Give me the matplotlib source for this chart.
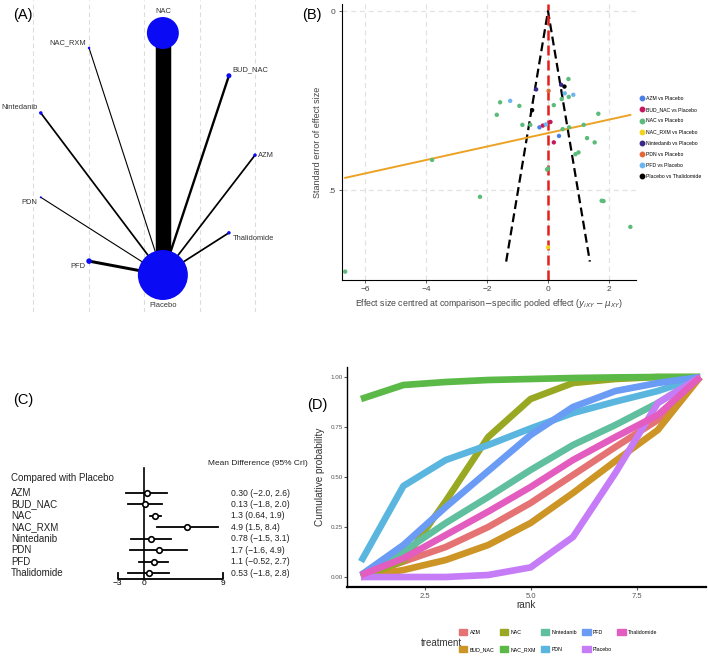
import numpy as np
import matplotlib
matplotlib.use("Agg")
import matplotlib.pyplot as plt
from matplotlib.lines import Line2D
from matplotlib.patches import Patch

plt.rcParams['font.family'] = ['Liberation Sans', 'DejaVu Sans']

# ---- (A) network ----
treatments = ["NAC", "NAC_RXM", "BUD_NAC", "Nintedanib", "AZM", "PDN", "Thalidomide", "PFD", "Placebo"]
layout_x = [0.34, -0.99, 1.53, -1.86, 2.00, -1.86, 1.53, -0.99, 0.34]
layout_y = [2.18, 1.91, 1.41, 0.74, -0.02, -0.78, -1.42, -1.93, -2.18]
node_weight = [530, 3.2, 13, 6.3, 6.3, 2.1, 6.3, 16, 1296]
n_studies = [24, 1, 3, 2, 2, 1, 2, 4, 0]   # studies vs Placebo

# ---- (B) comparison-adjusted funnel ----
azm_x, azm_se = [-0.28, 0.36], [0.325, 0.349]
bud_x, bud_se = [-0.17, 0.08, 0.19], [0.320, 0.310, 0.367]
nac_x = [0.67, -1.57, -0.94, -1.68, 0.19, 0.45, 0.68, 1.65, -0.84, -0.58, 0.48, 0.69,
         1.17, 1.28, 1.53, 0.90, 1.00, -3.80, 0.00, -0.03, -2.23, 1.76, 1.82, 2.70, -6.65]
nac_se = [0.190, 0.255, 0.265, 0.290, 0.263, 0.246, 0.240, 0.287, 0.318, 0.318, 0.330, 0.325,
          0.318, 0.355, 0.367, 0.400, 0.395, 0.416, 0.440, 0.443, 0.519, 0.530, 0.531, 0.603, 0.728]
rxm_x, rxm_se = [0.0], [0.660]
nin_x, nin_se = [-0.39, 0.43], [0.219, 0.206]
pdn_x, pdn_se = [0.02], [0.223]
pfd_x, pfd_se = [-1.24, 0.55, 0.83, -0.07], [0.251, 0.230, 0.234, 0.317]
tha_x, tha_se = [-0.52, 0.54], [0.277, 0.211]
funnel_labels = ["AZM vs Placebo", "BUD_NAC vs Placebo", "NAC vs Placebo", "NAC_RXM vs Placebo",
                 "Nintedanib vs Placebo", "PDN vs Placebo", "PFD vs Placebo", "Placebo vs Thalidomide"]
egger_intercept, egger_slope = 0.341, -0.0188
funnel_se_max = 0.70

# ---- (C) forest ----
forest_names = ["AZM", "BUD_NAC", "NAC", "NAC_RXM", "Nintedanib", "PDN", "PFD", "Thalidomide"]
md_est = [0.30, 0.13, 1.3, 4.9, 0.78, 1.7, 1.1, 0.53]
md_lo = [-2.0, -1.8, 0.64, 1.5, -1.5, -1.6, -0.52, -1.8]
md_hi = [2.6, 2.0, 1.9, 8.4, 3.1, 4.9, 2.7, 2.8]
forest_ticks = [-3, 0, 9]

# ---- (D) cumulative ranking ----
ranks = [1, 2, 3, 4, 5, 6, 7, 8, 9]
rank_names = ["AZM", "BUD_NAC", "NAC", "NAC_RXM", "Nintedanib", "PDN", "PFD", "Placebo", "Thalidomide"]
cum_prob = [
    [0.005, 0.077, 0.15, 0.25, 0.37, 0.51, 0.65, 0.785, 1.0],
    [0.0, 0.035, 0.085, 0.16, 0.27, 0.42, 0.58, 0.735, 1.0],
    [0.0, 0.08, 0.38, 0.70, 0.89, 0.97, 0.99, 1.0, 1.0],
    [0.89, 0.96, 0.975, 0.985, 0.99, 0.995, 0.998, 1.0, 1.0],
    [0.01, 0.127, 0.27, 0.40, 0.535, 0.66, 0.76, 0.87, 1.0],
    [0.077, 0.455, 0.585, 0.66, 0.743, 0.82, 0.877, 0.93, 1.0],
    [0.01, 0.16, 0.35, 0.53, 0.71, 0.85, 0.93, 0.97, 1.0],
    [0.0, 0.0, 0.0, 0.01, 0.048, 0.20, 0.52, 0.87, 1.0],
    [0.01, 0.093, 0.21, 0.327, 0.45, 0.585, 0.70, 0.81, 1.0],
]

W, H = 708, 658


def px_axes(fig, x0, y0, x1, y1):
    return fig.add_axes([x0 / W, 1 - y1 / H, (x1 - x0) / W, (y1 - y0) / H])


def sig2(v):
    return f"{v:#.2g}".replace("-", "\u2212")


def main():
    fig = plt.figure(figsize=(W / 100, H / 100), dpi=100)

    # (A) network plot
    ax = px_axes(fig, 0, 0, 300, 312)
    ax.set_xlim(-144 / 55.5, 156 / 55.5)
    ax.set_ylim(-158 / 55.5, 154 / 55.5)
    ax.axis("off")
    for g in [-2, -1, 0, 1, 2]:
        ax.axvline(g, color="#dcdcdc", ls=(0, (4, 3)), lw=0.8, zorder=0)
    pl = treatments.index("Placebo")
    for i, t in enumerate(treatments):
        if i == pl:
            continue
        ax.plot([layout_x[i], layout_x[pl]], [layout_y[i], layout_y[pl]], color="black",
                lw=0.35 + 0.45 * n_studies[i], solid_capstyle="butt", zorder=1)
    ax.scatter(layout_x, layout_y, s=node_weight, color="#0a0af5", edgecolors="none", zorder=3)
    for i, t in enumerate(treatments):
        r = np.sqrt(node_weight[i]) / 2
        if t in ("NAC", "Placebo"):
            dx, dy, ha = 0, (r + 4) * np.sign(layout_y[i]), "center"
        else:
            dy = 0 if abs(layout_y[i]) < 0.2 else 4 * np.sign(layout_y[i])
            dx = 2.5 if layout_x[i] > 0 else -2.5
            ha = "left" if layout_x[i] > 0 else "right"
        ax.annotate(t, (layout_x[i], layout_y[i]), xytext=(dx, dy), textcoords="offset points",
                    ha=ha, va="center", fontsize=5.4, color="#333333", annotation_clip=False)

    # (B) funnel plot
    ax = px_axes(fig, 342, 4, 636, 280)
    ax.set_xlim(-6.754, 2.885)
    ax.set_ylim(0.7514, -0.0196)
    ax.set_xticks([-6, -4, -2, 0, 2])
    ax.set_xticklabels(["\u22126", "\u22124", "\u22122", "0", "2"])
    ax.set_yticks([0, 0.5])
    ax.set_yticklabels(["0", ".5"])
    ax.grid(True, ls=(0, (4, 3)), color="#e2e2e2", lw=0.9)
    ax.set_axisbelow(True)
    for s in ["top", "right"]:
        ax.spines[s].set_visible(False)
    ax.tick_params(labelsize=6, length=2.5, width=0.6, colors="#444444", pad=2)
    se_line = np.array([funnel_se_max, 0, funnel_se_max])
    ax.plot(se_line * np.array([-1.96, 0, 1.96]), se_line, color="black", ls=(0, (4, 2)), lw=1.6, zorder=2)
    ax.axvline(0, color="#e3201c", ls=(0, (4, 2)), lw=1.8, zorder=2)
    all_x = azm_x + bud_x + nac_x + rxm_x + nin_x + pdn_x + pfd_x + tha_x
    xs = np.array([min(all_x), max(all_x)])
    ax.plot(xs, egger_intercept + egger_slope * xs, color="#eca224", lw=1.4, zorder=2)
    groups = [(azm_x, azm_se, "#4a7fe6"), (bud_x, bud_se, "#c3185b"), (nac_x, nac_se, "#5bbb78"),
              (rxm_x, rxm_se, "#f3d21d"), (nin_x, nin_se, "#3a2789"), (pdn_x, pdn_se, "#e26a38"),
              (pfd_x, pfd_se, "#6db5f0"), (tha_x, tha_se, "#000000")]
    handles = []
    for (gx, gse, c), lab in zip(groups, funnel_labels):
        ax.scatter(gx, gse, s=10, color=c, edgecolors="none", zorder=4)
        handles.append(Line2D([], [], marker="o", ls="", color=c, markersize=3.2, label=lab))
    ax.set_ylabel("Standard error of effect size", fontsize=6.5, color="#444444")
    ax.yaxis.set_label_coords(-20 / 294, 0.5)
    ax.set_xlabel(r"Effect size centred at comparison$-$specific pooled effect ($y_{iXY}-\mu_{XY}$)",
                  fontsize=6.3, color="#444444", labelpad=3)
    fig.legend(handles=handles, loc="upper left", bbox_to_anchor=(639 / W, 1 - 96 / H), frameon=False,
               fontsize=3.7, handlelength=1.0, handletextpad=0.3, borderpad=0, borderaxespad=0,
               labelspacing=1.2)

    # (C) forest plot
    ax = px_axes(fig, 0, 380, 354, 600)
    ax.set_xlim(-144 / 8.78, 210 / 8.78)
    ax.set_ylim((600 - 493) / 11.43, (380 - 493) / 11.43)
    ax.axis("off")
    ax.plot([0, 0], [-2.19, 7.52], color="black", lw=1.2)
    ax.plot([forest_ticks[0], forest_ticks[0], forest_ticks[-1], forest_ticks[-1]],
            [7.0, 7.52, 7.52, 7.0], color="black", lw=1.3)
    for v in forest_ticks:
        ax.text(v, 7.95, str(v).replace("-", "\u2212"), ha="center", va="center", fontsize=6)
    ax.text(-15.15, -1.31, "Compared with Placebo", va="center", fontsize=7, color="#222222")
    ax.text(7.29, -2.54, "Mean Difference (95% CrI)", va="center", fontsize=6, color="#222222")
    for k, name in enumerate(forest_names):
        ax.plot([md_lo[k], md_hi[k]], [k, k], color="black", lw=1.3)
        ax.plot(md_est[k], k, "o", mfc="white", mec="black", ms=4, mew=1.2)
        ax.text(-15.15, k, name, va="center", fontsize=7, color="#222222")
        ax.text(9.91, k, f"{sig2(md_est[k])} ({sig2(md_lo[k])}, {sig2(md_hi[k])})",
                va="center", fontsize=6.2, color="#222222")

    # (D) cumulative ranking curves
    ax = px_axes(fig, 347, 367, 706, 587)
    ax.set_xlim(0.67, 9.137)
    ax.set_ylim(-0.05, 1.05)
    colors = ["#e57373", "#cc9526", "#98a823", "#5bb947", "#5fbf9f", "#5ab6df", "#6a9bf5", "#c77cf7", "#e35cbf"]
    for name, c, vals in zip(rank_names, colors, cum_prob):
        ax.plot(ranks, vals, color=c, lw=4.8, solid_joinstyle="round", solid_capstyle="butt")
    for s in ["top", "right"]:
        ax.spines[s].set_visible(False)
    ax.spines["left"].set_linewidth(1.0)
    ax.spines["bottom"].set_linewidth(1.6)
    ax.set_yticks([0, 0.25, 0.5, 0.75, 1.0])
    ax.set_yticklabels(["0.00", "0.25", "0.50", "0.75", "1.00"])
    ax.set_xticks([2.5, 5.0, 7.5])
    ax.set_xticklabels(["2.5", "5.0", "7.5"])
    ax.tick_params(axis="y", labelsize=4.5, length=2, colors="#555555", pad=1)
    ax.tick_params(axis="x", labelsize=5.5, length=2, colors="#555555", pad=2)
    ax.set_ylabel("Cumulative probability", fontsize=7.2, color="#333333")
    ax.yaxis.set_label_coords(-22 / 359, 0.5)
    ax.set_xlabel("rank", fontsize=7.2, color="#333333")
    ax.xaxis.set_label_coords(0.5, -13 / 220)
    patches = [Patch(color=c, label=n) for n, c in zip(rank_names, colors)]
    fig.legend(handles=patches, loc="upper left", bbox_to_anchor=(459 / W, 1 - 629 / H), ncol=5,
               frameon=False, fontsize=3.8, handlelength=1.6, handleheight=1.5, handletextpad=0.4,
               columnspacing=1.0, labelspacing=2.0, borderpad=0, borderaxespad=0)
    fig.text(421 / W, 1 - 643 / H, "treatment", fontsize=7, color="#333333", va="center")

    # panel letters
    for lab, x, y in [("(A)", 13, 15), ("(B)", 302, 15), ("(C)", 13, 400), ("(D)", 307, 405)]:
        fig.text(x / W, 1 - y / H, lab, fontsize=10.5, va="center")

    fig.savefig("out.png", dpi=100)


if __name__ == "__main__":
    main()
